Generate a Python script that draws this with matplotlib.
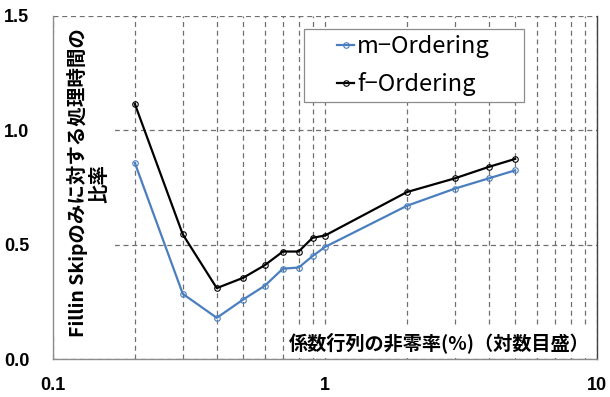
import matplotlib.pyplot as plt
from matplotlib.patches import Rectangle
from matplotlib.ticker import FixedLocator, NullFormatter

# nonzero ratio of the coefficient matrix (%)
density = [0.2, 0.3, 0.4, 0.5, 0.6, 0.7, 0.8, 0.9, 1.0, 2, 3, 4, 5]
# time ratio relative to Fillin Skip only
m_ordering = [0.857, 0.285, 0.18, 0.26, 0.32, 0.395, 0.40, 0.45, 0.49, 0.67, 0.745, 0.79, 0.825]
f_ordering = [1.115, 0.545, 0.31, 0.355, 0.41, 0.47, 0.47, 0.53, 0.54, 0.73, 0.79, 0.84, 0.875]

x_ticks = [0.1, 1, 10]
x_ticklabels = ['0.1', '1', '10']
y_ticks = [0.0, 0.5, 1.0, 1.5]
y_ticklabels = ['0.0', '0.5', '1.0', '1.5']

JP = ['Noto Sans CJK JP', 'DejaVu Sans']

fig = plt.figure(figsize=(6.1, 3.97), dpi=100)
ax = fig.add_axes([0.0869, 0.0957, 0.8918, 0.864])

ax.set_xscale('log')
ax.set_xlim(0.1, 10)
ax.set_ylim(0, 1.5)

ax.xaxis.set_major_locator(FixedLocator(x_ticks))
ax.xaxis.set_minor_locator(FixedLocator([m * d for d in (0.1, 1) for m in range(2, 10)]))
ax.xaxis.set_minor_formatter(NullFormatter())
ax.set_xticklabels(x_ticklabels)
ax.set_yticks(y_ticks)
ax.set_yticklabels(y_ticklabels)

ax.tick_params(which='both', length=0)
ax.tick_params(axis='x', pad=13)
ax.tick_params(axis='y', pad=17)
for lab in ax.get_xticklabels() + ax.get_yticklabels():
    lab.set_fontfamily('Liberation Sans')
    lab.set_fontweight('bold')
    lab.set_fontsize(13)

ax.set_axisbelow(True)
grid_kw = dict(color='#707070', linewidth=0.9, linestyle=(0, (4, 3)))
ax.grid(True, which='both', axis='x', **grid_kw)
ax.grid(True, which='major', axis='y', **grid_kw)

for side in ('left', 'bottom'):
    ax.spines[side].set_color('#8c8c8c')
    ax.spines[side].set_linewidth(1.0)
ax.spines['top'].set_visible(False)
ax.spines['right'].set_color('#404040')
ax.spines['right'].set_linewidth(1.0)

ax.plot(density, m_ordering, color='#4a7ebf', linewidth=1.6, marker='o',
        markersize=4, markerfacecolor='none', markeredgewidth=0.8,
        label='m\u2212Ordering', zorder=4)
ax.plot(density, f_ordering, color='black', linewidth=1.6, marker='o',
        markersize=4, markerfacecolor='none', markeredgewidth=0.8,
        label='f\u2212Ordering', zorder=4)

# white panels behind the in-plot axis titles
ax.add_patch(Rectangle((0, 0.07), 0.114, 0.88, transform=ax.transAxes,
                       facecolor='white', edgecolor='none', zorder=2))
ax.add_patch(Rectangle((0.44, 0.003), 0.545, 0.09, transform=ax.transAxes,
                       facecolor='white', edgecolor='none', zorder=2))

ax.text(0.064, 0.513, 'Fillin Skipのみに対する処理時間の\n比率', transform=ax.transAxes,
        rotation=90, ha='center', va='center', multialignment='center',
        fontsize=14, fontweight='bold', family=JP, linespacing=1.15, zorder=3)
ax.text(0.71, 0.047, '係数行列の非零率(%)（対数目盛）', transform=ax.transAxes,
        ha='center', va='center', fontsize=13.8, fontweight='bold', family=JP, zorder=3)

# legend box
ax.add_patch(Rectangle((0.461, 0.749), 0.404, 0.213, transform=ax.transAxes,
                       facecolor='white', edgecolor='#8c8c8c', linewidth=0.9, zorder=5))
leg = ax.legend(loc='center', bbox_to_anchor=(0.663, 0.855), frameon=False,
                handlelength=0.7, handletextpad=0.15, labelspacing=0.6,
                prop={'family': JP, 'size': 17})
leg.set_zorder(6)

fig.savefig('out.png', dpi=100)
